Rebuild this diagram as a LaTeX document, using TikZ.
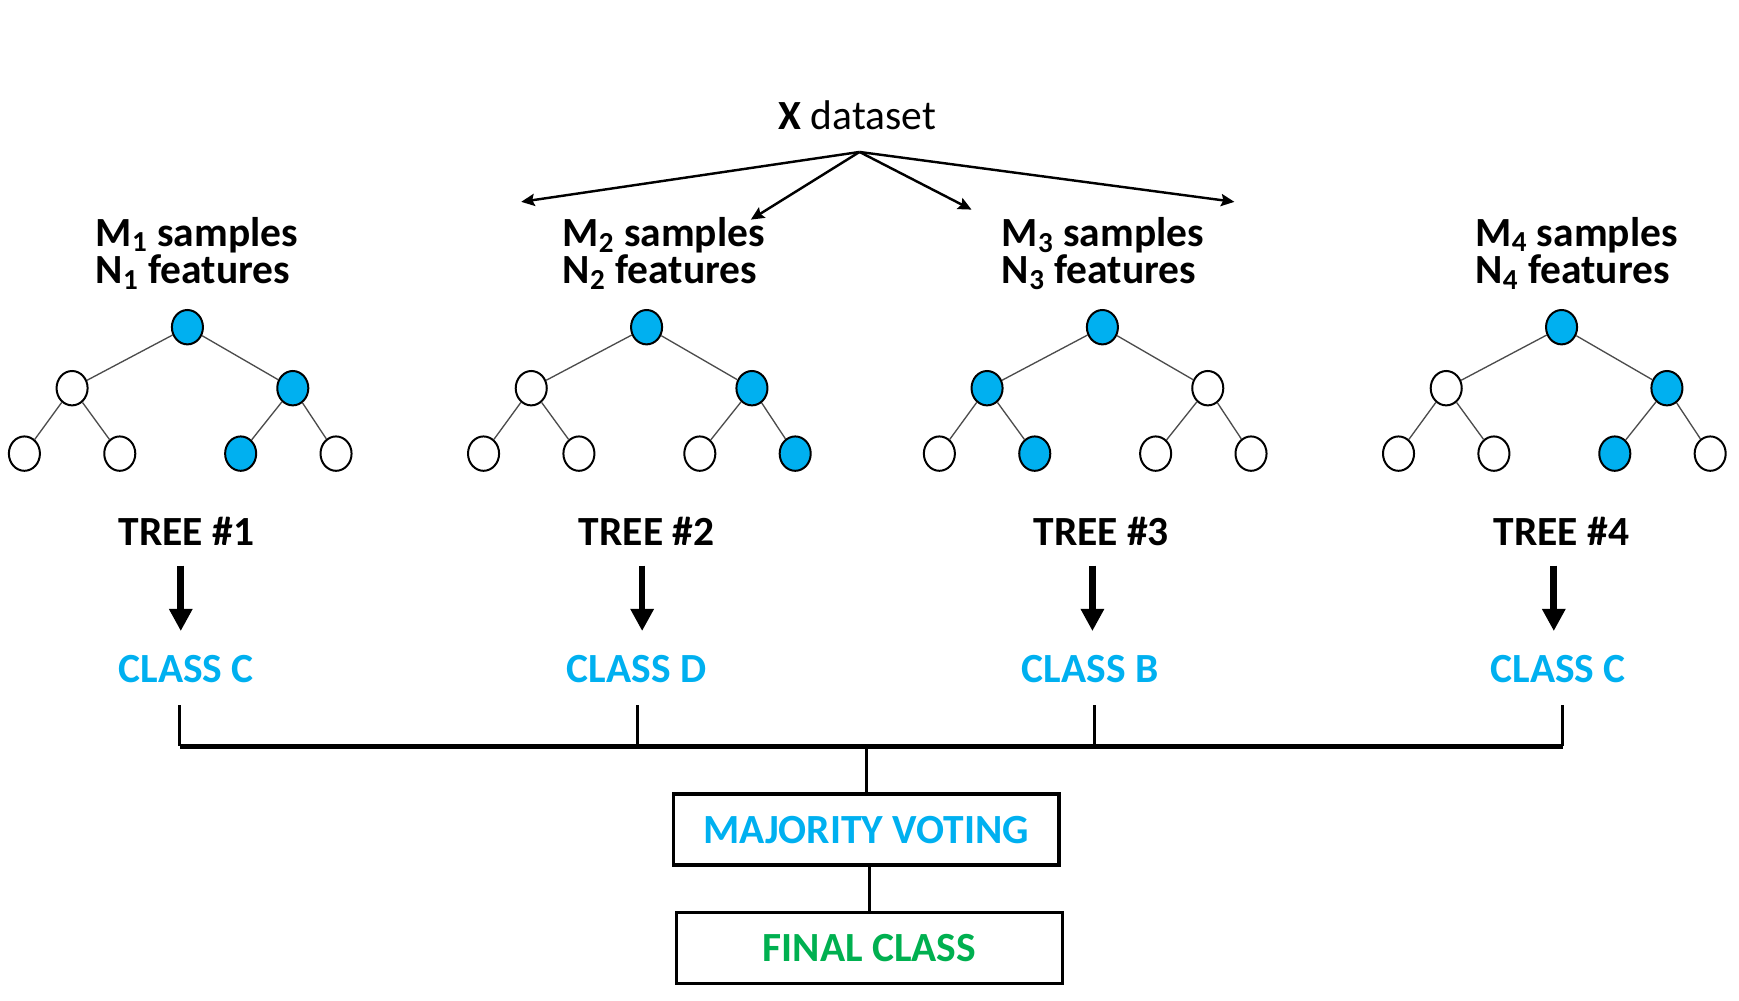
\documentclass[tikz,border=0pt]{standalone}
\usepackage{fontspec}
\setmainfont{Carlito}
\usetikzlibrary{arrows.meta,shapes.geometric}
\definecolor{cblue}{HTML}{00B0F0}
\definecolor{cgreen}{HTML}{00B050}
\newcommand\mytree[9]{%
  \begin{scope}[shift={(#2,0)}]
    \node[#3] (#1r) at (169,295) {};
    \node[#4] (#1a) at (65,350) {};
    \node[#5] (#1b) at (264,350) {};
    \node[#6] (#1aa) at (22,409) {};
    \node[#7] (#1ab) at (108,409) {};
    \node[#8] (#1ba) at (217,409) {};
    \node[#9] (#1bb) at (303,409) {};
    \draw[treeedge] (#1r) -- (#1a) (#1r) -- (#1b) (#1a) -- (#1aa) (#1a) -- (#1ab) (#1b) -- (#1ba) (#1b) -- (#1bb);
  \end{scope}}
\begin{document}
\begin{tikzpicture}[x=0.5pt,y=-0.5pt,
  font=\fontsize{18.7}{22}\selectfont\bfseries,
  lbl/.style={inner sep=0pt, anchor=base},
  lblw/.style={inner sep=0pt, anchor=base west},
  wn/.style={ellipse, draw=black, line width=0.9pt, minimum width=14pt, minimum height=15.5pt, inner sep=0pt, fill=white},
  bn/.style={wn, fill=cblue},
  treeedge/.style={draw=black!70, line width=0.6pt},
  thinarrow/.style={line width=1.1pt, -{Stealth[length=6pt,width=5.5pt,inset=1pt]}},
  bigarrow/.style={line width=3pt, -{Triangle[length=10pt,width=10pt]}},
  stub/.style={line width=1.3pt},
  bar/.style={line width=1.9pt},
  box/.style={draw=black, line width=1.5pt, minimum width=174pt, minimum height=32pt, inner sep=0pt}]
\useasboundingbox (0,0) rectangle (1568,902);

% dataset
\node[lbl] (x) at (773,117) {X \mdseries dataset};
\coordinate (o) at (775,137);
\coordinate (e1) at (470,182);
\coordinate (e2) at (677,198);
\coordinate (e3) at (876,189);
\coordinate (e4) at (1113,182);
\draw[thinarrow] (o) -- (e1);
\draw[thinarrow] (o) -- (e2);
\draw[thinarrow] (o) -- (e3);
\draw[thinarrow] (o) -- (e4);

% sample/feature labels
\node[lblw] (m1) at (86,222) {M\textsubscript{1} samples};
\node[lblw] (n1) at (86,256) {N\textsubscript{1} features};
\node[lblw] (m2) at (507,222) {M\textsubscript{2} samples};
\node[lblw] (n2) at (507,256) {N\textsubscript{2} features};
\node[lblw] (m3) at (903,222) {M\textsubscript{3} samples};
\node[lblw] (n3) at (903,256) {N\textsubscript{3} features};
\node[lblw] (m4) at (1330,222) {M\textsubscript{4} samples};
\node[lblw] (n4) at (1330,256) {N\textsubscript{4} features};

% trees
\mytree{p}{0}{bn}{wn}{bn}{wn}{wn}{bn}{wn}
\mytree{q}{414}{bn}{wn}{bn}{wn}{wn}{wn}{bn}
\mytree{s}{825}{bn}{bn}{wn}{wn}{bn}{wn}{wn}
\mytree{u}{1239}{bn}{wn}{bn}{wn}{wn}{bn}{wn}

% tree labels
\node[lbl] (t1) at (168,492) {TREE \#1};
\node[lbl] (t2) at (583,492) {TREE \#2};
\node[lbl] (t3) at (993,492) {TREE \#3};
\node[lbl] (t4) at (1408,492) {TREE \#4};

% arrows
\coordinate (a1) at (163,510); \coordinate (b1) at (163,569);
\coordinate (a2) at (579,510); \coordinate (b2) at (579,569);
\coordinate (a3) at (985,510); \coordinate (b3) at (985,569);
\coordinate (a4) at (1401,510); \coordinate (b4) at (1401,569);
\draw[bigarrow] (a1) -- (b1);
\draw[bigarrow] (a2) -- (b2);
\draw[bigarrow] (a3) -- (b3);
\draw[bigarrow] (a4) -- (b4);

% class labels
\node[lbl, text=cblue] (c1) at (168,615) {CLASS C};
\node[lbl, text=cblue] (c2) at (574,615) {CLASS D};
\node[lbl, text=cblue] (c3) at (983,615) {CLASS B};
\node[lbl, text=cblue] (c4) at (1405,615) {CLASS C};

% collecting lines
\coordinate (s1) at (162,636); \coordinate (h1) at (162,673);
\coordinate (s2) at (575,636); \coordinate (h2) at (575,673);
\coordinate (s3) at (987,636); \coordinate (h3) at (987,673);
\coordinate (s4) at (1409,636); \coordinate (h4) at (1409,673);
\coordinate (j) at (781,673);
\draw[stub] (s1) -- (h1);
\draw[stub] (s2) -- (h2);
\draw[stub] (s3) -- (h3);
\draw[stub] (s4) -- (h4);
\draw[bar] (h1) -- (h4);

% boxes
\node[box, text=cblue] (mv) at (781,748) {MAJORITY VOTING};
\node[box, text=cgreen] (fc) at (784,855) {FINAL CLASS};
\draw[stub] (j) -- (mv.north);
\draw[stub] (fc.north) -- (fc.north |- mv.south);
\end{tikzpicture}
\end{document}
